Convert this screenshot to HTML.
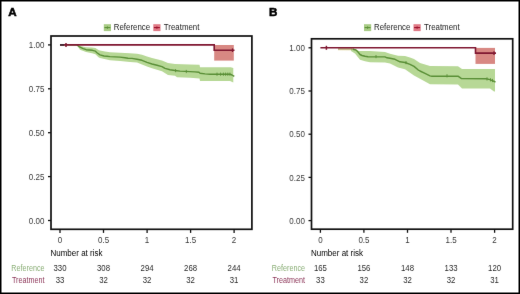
<!DOCTYPE html>
<html><head><meta charset="utf-8"><style>
html,body{margin:0;padding:0;background:#fff;}
svg{display:block;font-family:"Liberation Sans", sans-serif;}
</style></head><body>
<svg width="520" height="294" viewBox="0 0 520 294">
<defs><filter id="bl" x="0" y="0" width="520" height="294" filterUnits="userSpaceOnUse" color-interpolation-filters="sRGB"><feConvolveMatrix order="3" kernelMatrix="0.00276 0.04704 0.00276 0.04704 0.80077 0.04704 0.00276 0.04704 0.00276" edgeMode="duplicate" preserveAlpha="false"/></filter></defs>
<rect x="0" y="0" width="520" height="294" fill="#fff"/>
<g filter="url(#bl)">
<text x="8.350000000000001" y="16.1" font-size="11.6" font-weight="bold" fill="#000" stroke="#000" stroke-width="0.55">A</text>
<rect x="103.8" y="24.2" width="7.2" height="6.9" fill="#a9cc86"/>
<line x1="104.4" x2="110.4" y1="27.6" y2="27.6" stroke="#5a8f37" stroke-width="1.1"/>
<line x1="107.4" x2="107.4" y1="26.3" y2="28.9" stroke="#5a8f37" stroke-width="0.8"/>
<text transform="translate(113.80,29.60) scale(1,1.13)" font-size="7.9" fill="#222">Reference</text>
<rect x="153.3" y="24.2" width="7.2" height="6.9" fill="#e07a86"/>
<line x1="153.9" x2="159.9" y1="27.6" y2="27.6" stroke="#9a0f2a" stroke-width="1.1"/>
<line x1="156.9" x2="156.9" y1="26.3" y2="28.9" stroke="#9a0f2a" stroke-width="0.8"/>
<text transform="translate(163.80,29.60) scale(1,1.13)" font-size="7.9" fill="#222">Treatment</text>
<polygon points="77.0,44.9 80.0,46.0 86.0,47.2 92.0,47.5 95.4,48.1 98.5,50.0 100.0,50.4 105.0,51.6 110.0,52.2 120.0,52.7 130.0,53.2 137.0,53.8 142.0,54.7 147.0,56.6 152.0,58.1 157.0,59.3 162.0,60.6 168.0,63.0 175.0,64.1 190.0,64.4 199.5,64.8 200.0,67.2 230.7,67.2 233.3,68.0 233.3,82.6 230.0,81.0 200.0,81.0 199.5,78.6 190.0,77.8 177.0,77.3 175.0,75.8 168.0,75.0 162.0,71.2 157.0,69.8 152.0,68.2 147.0,66.5 142.0,64.6 137.0,62.6 130.0,61.9 120.0,60.9 110.0,60.2 100.0,58.0 98.5,57.3 95.4,54.2 92.0,53.3 86.0,52.1 80.0,49.7 77.0,45.5" fill="#b7d896"/>
<rect x="214.2" y="45" width="19.6" height="15.6" fill="#d88883"/>

<polyline points="60.0,44.9 77.0,44.9 78.0,45.7 80.1,47.2 83.2,48.7 86.2,49.7 89.3,50.0 92.4,50.3 95.4,51.2 97.3,53.0 100.0,54.8 104.0,56.0 107.0,56.3 110.0,56.6 115.0,56.9 120.0,57.1 125.0,57.8 128.0,58.3 132.0,58.4 137.0,59.2 142.0,60.3 147.0,62.4 152.0,64.0 157.0,65.3 162.0,66.6 165.0,68.4 170.0,69.7 175.0,70.5 180.0,71.1 185.0,71.4 190.0,71.6 195.0,71.9 199.0,72.3 200.0,73.2 205.0,73.9 210.0,74.2 230.0,74.2 232.0,75.0 234.3,76.4" fill="none" stroke="#5a8f37" stroke-width="1.4" stroke-linejoin="round"/>
<line x1="175.6" x2="175.6" y1="69.0" y2="72.2" stroke="#5a8f37" stroke-width="0.9"/>
<line x1="186.3" x2="186.3" y1="69.9" y2="73.1" stroke="#5a8f37" stroke-width="0.9"/>
<line x1="217" x2="217" y1="72.6" y2="75.8" stroke="#5a8f37" stroke-width="0.9"/>
<line x1="220.6" x2="220.6" y1="72.6" y2="75.8" stroke="#5a8f37" stroke-width="0.9"/>
<line x1="223.4" x2="223.4" y1="72.6" y2="75.8" stroke="#5a8f37" stroke-width="0.9"/>
<line x1="225.6" x2="225.6" y1="72.6" y2="75.8" stroke="#5a8f37" stroke-width="0.9"/>
<line x1="227.8" x2="227.8" y1="72.6" y2="75.8" stroke="#5a8f37" stroke-width="0.9"/>
<line x1="229.9" x2="229.9" y1="72.6" y2="75.8" stroke="#5a8f37" stroke-width="0.9"/>
<polyline points="60.0,44.9 214.2,44.9 214.2,50.2 234.5,50.2" fill="none" stroke="#7f1731" stroke-width="1.6"/>
<line x1="60.0" x2="64.0" y1="44.9" y2="44.9" stroke="#3a2832" stroke-width="1.6"/>
<line x1="66.0" x2="66.0" y1="42.9" y2="46.9" stroke="#7f1731" stroke-width="1.5"/>
<line x1="232.5" x2="232.5" y1="48.4" y2="52.0" stroke="#7f1731" stroke-width="1.3"/>

<rect x="51.0" y="36.0" width="200.9" height="193.3" fill="none" stroke="#111" stroke-width="1.7"/>
<line x1="48.0" x2="51.0" y1="44.9" y2="44.9" stroke="#111" stroke-width="1.3"/>
<text transform="translate(44.40,48.00) scale(1,1.13)" font-size="8" fill="#383838" text-anchor="end">1.00</text>
<line x1="48.0" x2="51.0" y1="88.8" y2="88.8" stroke="#111" stroke-width="1.3"/>
<text transform="translate(44.40,91.90) scale(1,1.13)" font-size="8" fill="#383838" text-anchor="end">0.75</text>
<line x1="48.0" x2="51.0" y1="132.7" y2="132.7" stroke="#111" stroke-width="1.3"/>
<text transform="translate(44.40,135.80) scale(1,1.13)" font-size="8" fill="#383838" text-anchor="end">0.50</text>
<line x1="48.0" x2="51.0" y1="176.6" y2="176.6" stroke="#111" stroke-width="1.3"/>
<text transform="translate(44.40,179.70) scale(1,1.13)" font-size="8" fill="#383838" text-anchor="end">0.25</text>
<line x1="48.0" x2="51.0" y1="220.5" y2="220.5" stroke="#111" stroke-width="1.3"/>
<text transform="translate(44.40,223.60) scale(1,1.13)" font-size="8" fill="#383838" text-anchor="end">0.00</text>
<line x1="60.0" x2="60.0" y1="229.3" y2="232.9" stroke="#111" stroke-width="1.3"/>
<text transform="translate(60.00,242.70) scale(1,1.13)" font-size="8" fill="#383838" text-anchor="middle">0</text>
<line x1="103.5" x2="103.5" y1="229.3" y2="232.9" stroke="#111" stroke-width="1.3"/>
<text transform="translate(103.53,242.70) scale(1,1.13)" font-size="8" fill="#383838" text-anchor="middle">0.5</text>
<line x1="147.1" x2="147.1" y1="229.3" y2="232.9" stroke="#111" stroke-width="1.3"/>
<text transform="translate(147.05,242.70) scale(1,1.13)" font-size="8" fill="#383838" text-anchor="middle">1</text>
<line x1="190.6" x2="190.6" y1="229.3" y2="232.9" stroke="#111" stroke-width="1.3"/>
<text transform="translate(190.57,242.70) scale(1,1.13)" font-size="8" fill="#383838" text-anchor="middle">1.5</text>
<line x1="234.1" x2="234.1" y1="229.3" y2="232.9" stroke="#111" stroke-width="1.3"/>
<text transform="translate(234.10,242.70) scale(1,1.13)" font-size="8" fill="#383838" text-anchor="middle">2</text>
<text transform="translate(50.50,255.50) scale(1,1.06)" font-size="8.0" fill="#000">Number at risk</text>
<text transform="translate(44.50,270.90) scale(1,1.13)" font-size="7.2" fill="#8aae76" text-anchor="end">Reference</text>
<text transform="translate(44.50,282.80) scale(1,1.13)" font-size="7.2" fill="#8c3558" text-anchor="end">Treatment</text>
<text transform="translate(60.00,270.90) scale(1,1.13)" font-size="7.8" fill="#2a2a2a" text-anchor="middle">330</text>
<text transform="translate(60.00,282.80) scale(1,1.13)" font-size="7.8" fill="#2a2a2a" text-anchor="middle">33</text>
<text transform="translate(103.53,270.90) scale(1,1.13)" font-size="7.8" fill="#2a2a2a" text-anchor="middle">308</text>
<text transform="translate(103.53,282.80) scale(1,1.13)" font-size="7.8" fill="#2a2a2a" text-anchor="middle">32</text>
<text transform="translate(147.05,270.90) scale(1,1.13)" font-size="7.8" fill="#2a2a2a" text-anchor="middle">294</text>
<text transform="translate(147.05,282.80) scale(1,1.13)" font-size="7.8" fill="#2a2a2a" text-anchor="middle">32</text>
<text transform="translate(190.57,270.90) scale(1,1.13)" font-size="7.8" fill="#2a2a2a" text-anchor="middle">268</text>
<text transform="translate(190.57,282.80) scale(1,1.13)" font-size="7.8" fill="#2a2a2a" text-anchor="middle">32</text>
<text transform="translate(234.10,270.90) scale(1,1.13)" font-size="7.8" fill="#2a2a2a" text-anchor="middle">244</text>
<text transform="translate(234.10,282.80) scale(1,1.13)" font-size="7.8" fill="#2a2a2a" text-anchor="middle">31</text>
<text x="269.05" y="16.1" font-size="11.6" font-weight="bold" fill="#000" stroke="#000" stroke-width="0.55">B</text>
<rect x="364.0" y="24.2" width="7.2" height="6.9" fill="#a9cc86"/>
<line x1="364.6" x2="370.6" y1="27.6" y2="27.6" stroke="#5a8f37" stroke-width="1.1"/>
<line x1="367.6" x2="367.6" y1="26.3" y2="28.9" stroke="#5a8f37" stroke-width="0.8"/>
<text transform="translate(374.00,29.60) scale(1,1.13)" font-size="7.9" fill="#222">Reference</text>
<rect x="413.5" y="24.2" width="7.2" height="6.9" fill="#e07a86"/>
<line x1="414.1" x2="420.1" y1="27.6" y2="27.6" stroke="#9a0f2a" stroke-width="1.1"/>
<line x1="417.1" x2="417.1" y1="26.3" y2="28.9" stroke="#9a0f2a" stroke-width="0.8"/>
<text transform="translate(424.00,29.60) scale(1,1.13)" font-size="7.9" fill="#222">Treatment</text>
<polygon points="338.0,47.7 352.0,47.7 352.0,50.8 338.0,50.6" fill="#f4efd6"/>
<polygon points="351.0,48.5 355.0,49.5 359.0,51.0 370.0,51.1 385.0,52.1 390.0,53.7 398.0,55.7 405.0,56.0 410.0,57.5 414.0,59.0 420.0,63.0 430.0,65.9 458.0,66.2 462.0,68.9 494.0,68.9 495.0,69.0 495.0,91.5 494.0,91.5 490.0,88.6 462.0,88.6 458.0,84.6 430.0,84.3 420.0,78.8 414.0,75.4 405.0,69.3 398.0,67.4 390.0,63.4 385.0,62.5 370.0,62.3 365.0,61.2 360.0,59.8 355.0,53.5 351.0,51.0" fill="#b7d896"/>
<rect x="475.5" y="47.9" width="19.5" height="16.0" fill="#d88883"/>
<line x1="338" x2="354" y1="49.0" y2="49.0" stroke="#8a7a3c" stroke-width="0.9"/>
<polyline points="353.0,49.3 356.0,50.0 358.0,52.0 360.0,54.5 362.0,55.5 365.0,56.3 368.0,56.8 385.0,56.9 387.0,57.8 390.0,58.3 395.0,59.3 398.0,60.8 400.0,61.8 405.0,62.5 410.0,64.3 414.0,66.4 418.0,69.8 420.0,71.0 425.0,73.4 430.0,75.9 432.0,76.3 458.0,76.2 461.5,78.6 486.0,78.8 490.0,79.6 495.5,82.0" fill="none" stroke="#5a8f37" stroke-width="1.4" stroke-linejoin="round"/>
<line x1="376" x2="376" y1="55.0" y2="58.2" stroke="#5a8f37" stroke-width="0.9"/>
<line x1="406" x2="406" y1="61.0" y2="64.2" stroke="#5a8f37" stroke-width="0.9"/>
<line x1="447" x2="447" y1="74.2" y2="77.4" stroke="#5a8f37" stroke-width="0.9"/>
<line x1="487" x2="487" y1="77.3" y2="80.5" stroke="#5a8f37" stroke-width="0.9"/>
<line x1="490.5" x2="490.5" y1="78.2" y2="81.4" stroke="#5a8f37" stroke-width="0.9"/>
<line x1="492.5" x2="492.5" y1="78.9" y2="82.1" stroke="#5a8f37" stroke-width="0.9"/>
<polyline points="320.4,47.8 475.5,47.8 475.5,53.1 496.0,53.1" fill="none" stroke="#7f1731" stroke-width="1.6"/>
<line x1="326.4" x2="326.4" y1="45.8" y2="49.8" stroke="#7f1731" stroke-width="1.5"/>
<line x1="494.0" x2="494.0" y1="51.3" y2="54.9" stroke="#7f1731" stroke-width="1.3"/>

<rect x="311.5" y="38.8" width="201.2" height="190.4" fill="none" stroke="#111" stroke-width="1.7"/>
<line x1="308.5" x2="311.5" y1="47.8" y2="47.8" stroke="#111" stroke-width="1.3"/>
<text transform="translate(304.90,50.95) scale(1,1.13)" font-size="8" fill="#383838" text-anchor="end">1.00</text>
<line x1="308.5" x2="311.5" y1="91.0" y2="91.0" stroke="#111" stroke-width="1.3"/>
<text transform="translate(304.90,94.14) scale(1,1.13)" font-size="8" fill="#383838" text-anchor="end">0.75</text>
<line x1="308.5" x2="311.5" y1="134.2" y2="134.2" stroke="#111" stroke-width="1.3"/>
<text transform="translate(304.90,137.32) scale(1,1.13)" font-size="8" fill="#383838" text-anchor="end">0.50</text>
<line x1="308.5" x2="311.5" y1="177.4" y2="177.4" stroke="#111" stroke-width="1.3"/>
<text transform="translate(304.90,180.51) scale(1,1.13)" font-size="8" fill="#383838" text-anchor="end">0.25</text>
<line x1="308.5" x2="311.5" y1="220.6" y2="220.6" stroke="#111" stroke-width="1.3"/>
<text transform="translate(304.90,223.70) scale(1,1.13)" font-size="8" fill="#383838" text-anchor="end">0.00</text>
<line x1="320.4" x2="320.4" y1="229.2" y2="232.8" stroke="#111" stroke-width="1.3"/>
<text transform="translate(320.40,242.70) scale(1,1.13)" font-size="8" fill="#383838" text-anchor="middle">0</text>
<line x1="363.9" x2="363.9" y1="229.2" y2="232.8" stroke="#111" stroke-width="1.3"/>
<text transform="translate(363.95,242.70) scale(1,1.13)" font-size="8" fill="#383838" text-anchor="middle">0.5</text>
<line x1="407.5" x2="407.5" y1="229.2" y2="232.8" stroke="#111" stroke-width="1.3"/>
<text transform="translate(407.50,242.70) scale(1,1.13)" font-size="8" fill="#383838" text-anchor="middle">1</text>
<line x1="451.0" x2="451.0" y1="229.2" y2="232.8" stroke="#111" stroke-width="1.3"/>
<text transform="translate(451.05,242.70) scale(1,1.13)" font-size="8" fill="#383838" text-anchor="middle">1.5</text>
<line x1="494.6" x2="494.6" y1="229.2" y2="232.8" stroke="#111" stroke-width="1.3"/>
<text transform="translate(494.60,242.70) scale(1,1.13)" font-size="8" fill="#383838" text-anchor="middle">2</text>
<text transform="translate(311.00,255.50) scale(1,1.06)" font-size="8.0" fill="#000">Number at risk</text>
<text transform="translate(305.00,270.90) scale(1,1.13)" font-size="7.2" fill="#8aae76" text-anchor="end">Reference</text>
<text transform="translate(305.00,282.80) scale(1,1.13)" font-size="7.2" fill="#8c3558" text-anchor="end">Treatment</text>
<text transform="translate(320.40,270.90) scale(1,1.13)" font-size="7.8" fill="#2a2a2a" text-anchor="middle">165</text>
<text transform="translate(320.40,282.80) scale(1,1.13)" font-size="7.8" fill="#2a2a2a" text-anchor="middle">33</text>
<text transform="translate(363.95,270.90) scale(1,1.13)" font-size="7.8" fill="#2a2a2a" text-anchor="middle">156</text>
<text transform="translate(363.95,282.80) scale(1,1.13)" font-size="7.8" fill="#2a2a2a" text-anchor="middle">32</text>
<text transform="translate(407.50,270.90) scale(1,1.13)" font-size="7.8" fill="#2a2a2a" text-anchor="middle">148</text>
<text transform="translate(407.50,282.80) scale(1,1.13)" font-size="7.8" fill="#2a2a2a" text-anchor="middle">32</text>
<text transform="translate(451.05,270.90) scale(1,1.13)" font-size="7.8" fill="#2a2a2a" text-anchor="middle">133</text>
<text transform="translate(451.05,282.80) scale(1,1.13)" font-size="7.8" fill="#2a2a2a" text-anchor="middle">32</text>
<text transform="translate(494.60,270.90) scale(1,1.13)" font-size="7.8" fill="#2a2a2a" text-anchor="middle">120</text>
<text transform="translate(494.60,282.80) scale(1,1.13)" font-size="7.8" fill="#2a2a2a" text-anchor="middle">31</text>
</g>
<rect x="0.75" y="0.75" width="518.5" height="292.5" fill="none" stroke="#000" stroke-width="1.5"/>
</svg>
</body></html>
